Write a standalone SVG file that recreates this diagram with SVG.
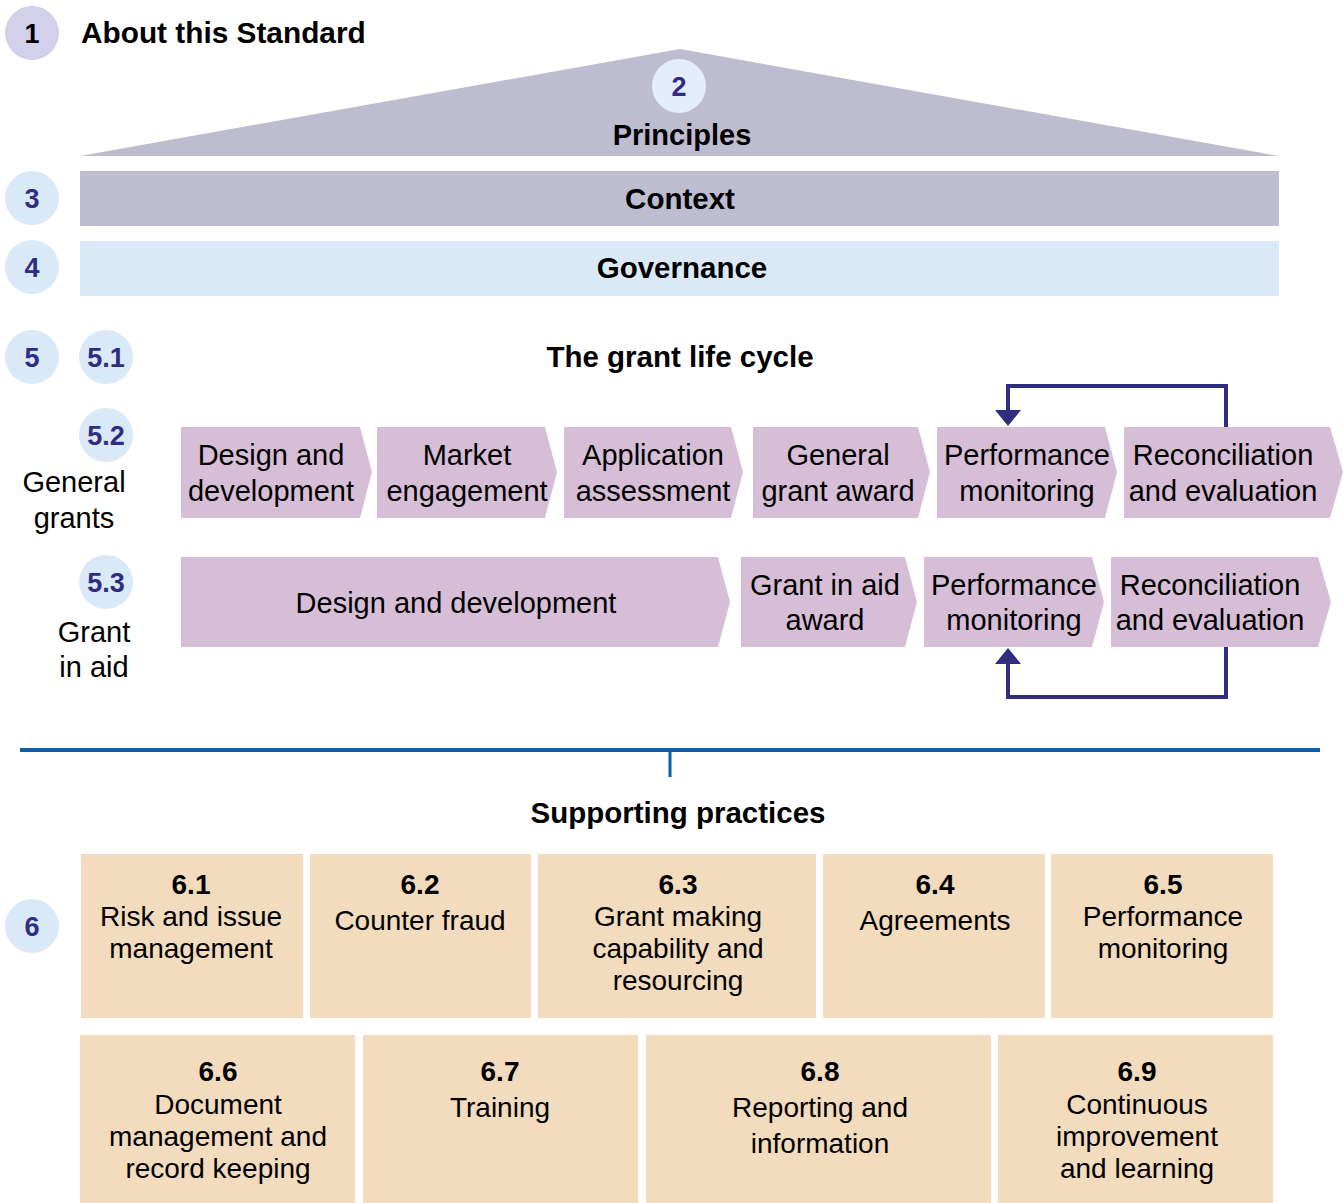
<svg xmlns="http://www.w3.org/2000/svg" width="1343" height="1203" viewBox="0 0 1343 1203">
<defs>
<style>
text{font-family:"Liberation Sans",Arial,sans-serif;fill:#000;text-anchor:middle}
.h{font-size:29.5px;font-weight:bold}
.n{font-size:27px;font-weight:bold;fill:#2e2d83}
.c{font-size:29px}
.b{font-size:28px}
.bn{font-size:28px;font-weight:bold}
.circ{fill:#dae9f7}
.chev{fill:#d6bfd6}
.box{fill:#f3dbbe}
.loop{fill:none;stroke:#2e2d7f;stroke-width:4}
</style>
<marker id="ah" viewBox="0 0 16 26" refX="0" refY="13" markerWidth="16" markerHeight="26" markerUnits="userSpaceOnUse" orient="auto">
<path d="M0,0 L16,13 L0,26 z" fill="#2e2d7f"/>
</marker>
</defs>
<rect width="1343" height="1203" fill="#fff"/>

<g id="n1">
<circle cx="32" cy="33" r="27" fill="#d3d1ea"/>
<text class="n" x="32" y="43" style="fill:#000">1</text>
<text class="h" x="81" y="43" style="text-anchor:start;font-size:29.8px">About this Standard</text>
</g>

<g id="n2">
<polygon points="80,156 680,49 1279,156" fill="#bebdcf"/>
<circle cx="679" cy="86" r="27" fill="#e4eefa"/>
<text class="n" x="679" y="96">2</text>
<text class="h" x="682" y="145" style="font-size:29px">Principles</text>
</g>

<g id="n3">
<circle class="circ" cx="32" cy="198" r="27"/>
<text class="n" x="32" y="208">3</text>
<rect x="80" y="171" width="1199" height="55" fill="#bebdcf"/>
<text class="h" x="680" y="209">Context</text>
</g>

<g id="n4">
<circle class="circ" cx="32" cy="267" r="27"/>
<text class="n" x="32" y="277">4</text>
<rect x="80" y="241" width="1199" height="55" fill="#dbe9f7"/>
<text class="h" x="682" y="278">Governance</text>
</g>

<g id="n5">
<circle class="circ" cx="32" cy="357" r="27"/>
<text class="n" x="32" y="367">5</text>
<circle class="circ" cx="106" cy="357" r="27"/>
<text class="n" x="106" y="367">5.1</text>
<text class="h" x="680" y="367">The grant life cycle</text>
</g>

<g id="n52">
<circle class="circ" cx="106" cy="435" r="27"/>
<text class="n" x="106" y="445">5.2</text>
<text class="c" x="74" y="492">General</text>
<text class="c" x="74" y="528">grants</text>
</g>

<g id="n53">
<circle class="circ" cx="106" cy="582" r="27"/>
<text class="n" x="106" y="592">5.3</text>
<text class="c" x="94" y="642">Grant</text>
<text class="c" x="94" y="677">in aid</text>
</g>

<g id="g1">
<polygon class="chev" points="181,427 360,427 372,472 360,518 181,518"/>
<text class="c" x="271" y="465">Design and</text>
<text class="c" x="271" y="501">development</text>
</g>
<g id="g2">
<polygon class="chev" points="377,427 545,427 557,472 545,518 377,518"/>
<text class="c" x="467" y="465">Market</text>
<text class="c" x="467" y="501">engagement</text>
</g>
<g id="g3">
<polygon class="chev" points="564,427 731,427 743,472 731,518 564,518"/>
<text class="c" x="653" y="465">Application</text>
<text class="c" x="653" y="501">assessment</text>
</g>
<g id="g4">
<polygon class="chev" points="753,427 918,427 930,472 918,518 753,518"/>
<text class="c" x="838" y="465">General</text>
<text class="c" x="838" y="501">grant award</text>
</g>
<g id="g5">
<polygon class="chev" points="937,427 1105,427 1117,472 1105,518 937,518"/>
<text class="c" x="1027" y="465">Performance</text>
<text class="c" x="1027" y="501">monitoring</text>
</g>
<g id="g6">
<polygon class="chev" points="1124,427 1330,427 1343,472 1330,518 1124,518"/>
<text class="c" x="1223" y="465">Reconciliation</text>
<text class="c" x="1223" y="501">and evaluation</text>
</g>

<g id="a1">
<polygon class="chev" points="181,557 718,557 730,602 718,647 181,647"/>
<text class="c" x="456" y="613">Design and development</text>
</g>
<g id="a2">
<polygon class="chev" points="741,557 905,557 917,602 905,647 741,647"/>
<text class="c" x="825" y="595">Grant in aid</text>
<text class="c" x="825" y="630">award</text>
</g>
<g id="a3">
<polygon class="chev" points="924,557 1092,557 1104,602 1092,647 924,647"/>
<text class="c" x="1014" y="595">Performance</text>
<text class="c" x="1014" y="630">monitoring</text>
</g>
<g id="a4">
<polygon class="chev" points="1111,557 1318,557 1331,602 1318,647 1111,647"/>
<text class="c" x="1210" y="595">Reconciliation</text>
<text class="c" x="1210" y="630">and evaluation</text>
</g>

<g id="connectors">
<path class="loop" d="M1226,427 V386 H1008 V410" marker-end="url(#ah)"/>
<path class="loop" d="M1226,647 V697 H1008 V664" marker-end="url(#ah)"/>
<line x1="20" y1="750" x2="1320" y2="750" stroke="#0b5fad" stroke-width="4"/>
<line x1="670" y1="752" x2="670" y2="777" stroke="#0b5fad" stroke-width="3"/>
</g>

<g id="n6">
<circle class="circ" cx="32" cy="926" r="27"/>
<text class="n" x="32" y="936">6</text>
<text class="h" x="678" y="823">Supporting practices</text>
</g>

<g id="s61">
<rect class="box" x="81" y="854" width="222" height="164"/>
<text class="bn" x="191" y="894">6.1</text>
<text class="b" x="191" y="926">Risk and issue</text>
<text class="b" x="191" y="958">management</text>
</g>
<g id="s62">
<rect class="box" x="310" y="854" width="221" height="164"/>
<text class="bn" x="420" y="894">6.2</text>
<text class="b" x="420" y="930">Counter fraud</text>
</g>
<g id="s63">
<rect class="box" x="538" y="854" width="278" height="164"/>
<text class="bn" x="678" y="894">6.3</text>
<text class="b" x="678" y="926">Grant making</text>
<text class="b" x="678" y="958">capability and</text>
<text class="b" x="678" y="990">resourcing</text>
</g>
<g id="s64">
<rect class="box" x="823" y="854" width="222" height="164"/>
<text class="bn" x="935" y="894">6.4</text>
<text class="b" x="935" y="930">Agreements</text>
</g>
<g id="s65">
<rect class="box" x="1051" y="854" width="222" height="164"/>
<text class="bn" x="1163" y="894">6.5</text>
<text class="b" x="1163" y="926">Performance</text>
<text class="b" x="1163" y="958">monitoring</text>
</g>

<g id="s66">
<rect class="box" x="80" y="1035" width="275" height="168"/>
<text class="bn" x="218" y="1081">6.6</text>
<text class="b" x="218" y="1114">Document</text>
<text class="b" x="218" y="1146">management and</text>
<text class="b" x="218" y="1178">record keeping</text>
</g>
<g id="s67">
<rect class="box" x="363" y="1035" width="275" height="168"/>
<text class="bn" x="500" y="1081">6.7</text>
<text class="b" x="500" y="1117">Training</text>
</g>
<g id="s68">
<rect class="box" x="646" y="1035" width="345" height="168"/>
<text class="bn" x="820" y="1081">6.8</text>
<text class="b" x="820" y="1117">Reporting and</text>
<text class="b" x="820" y="1153">information</text>
</g>
<g id="s69">
<rect class="box" x="998" y="1035" width="275" height="168"/>
<text class="bn" x="1137" y="1081">6.9</text>
<text class="b" x="1137" y="1114">Continuous</text>
<text class="b" x="1137" y="1146">improvement</text>
<text class="b" x="1137" y="1178">and learning</text>
</g>
</svg>
